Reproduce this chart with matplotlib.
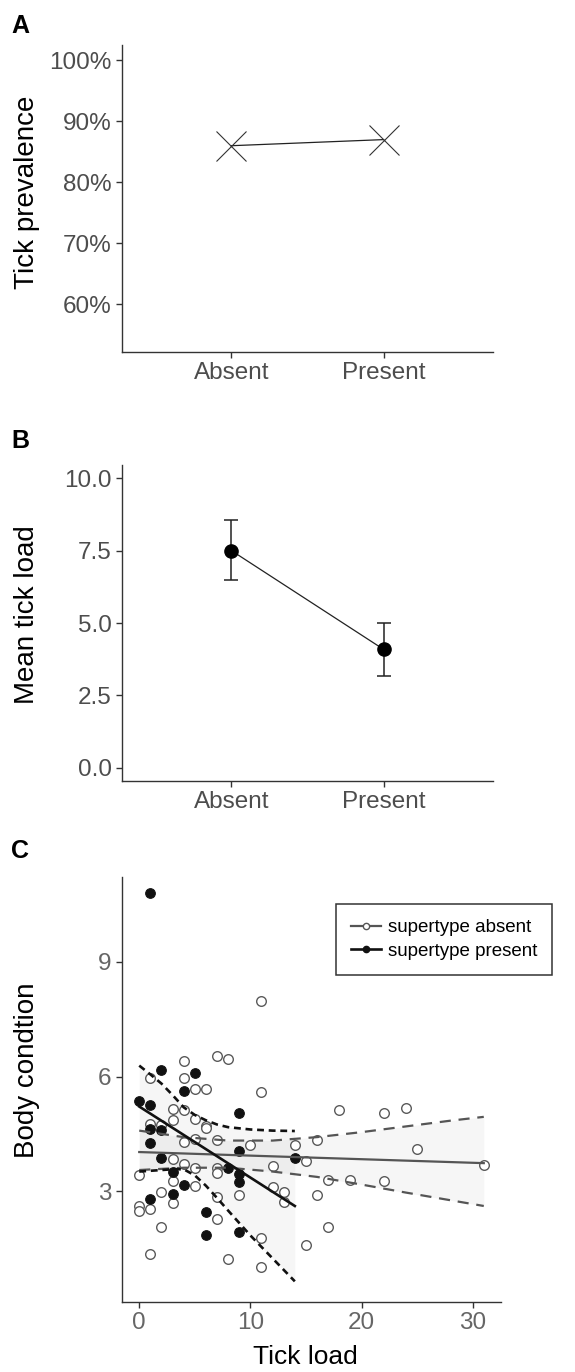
import matplotlib
matplotlib.use("Agg")
import matplotlib.pyplot as plt
from matplotlib.lines import Line2D
from matplotlib.ticker import FuncFormatter

plt.rcParams['font.family'] = ['Liberation Sans', 'DejaVu Sans']

# ---------------- data ----------------
groups = ["Absent", "Present"]
prevalence = [86.0, 87.0]            # %
load_mean = [7.5, 4.09]
load_low = [6.47, 3.18]
load_high = [8.57, 5.0]

absent_x = [11, 4, 7, 8, 1, 4, 5, 6, 11, 3, 4, 3, 5, 6, 1, 2, 4, 5, 7, 10, 14, 16,
            3, 4, 5, 7, 7, 12, 15, 0, 3, 5, 12, 13, 13, 16, 9, 7, 2, 3, 0, 0, 1,
            7, 2, 11, 15, 1, 8, 11, 18, 22, 24, 25, 31, 17, 19, 22, 17, 6]
absent_y = [7.98, 6.42, 6.54, 6.46, 5.97, 5.97, 5.69, 5.67, 5.59, 5.15, 5.13, 4.86, 4.90, 4.70, 4.76, 4.75, 4.28, 4.37, 4.35, 4.22, 4.22, 4.34,
            3.85, 3.72, 3.61, 3.61, 3.47, 3.66, 3.79, 3.43, 3.27, 3.14, 3.11, 2.98, 2.72, 2.91, 2.90, 2.85, 2.98, 2.71, 2.63, 2.49, 2.53,
            2.27, 2.07, 1.78, 1.60, 1.37, 1.24, 1.03, 5.12, 5.04, 5.17, 4.10, 3.70, 3.31, 3.31, 3.27, 2.07, 4.65]

present_x = [1, 2, 5, 4, 0, 1, 9, 1, 2, 1, 9, 2, 14, 3, 8, 9, 9, 4, 3, 1, 6, 6, 9]
present_y = [10.8, 6.17, 6.10, 5.63, 5.37, 5.27, 5.05, 4.62, 4.60, 4.27, 4.05, 3.88, 3.88, 3.52, 3.62, 3.45, 3.25, 3.16, 2.94, 2.80, 2.45, 1.87, 1.95]

absent_fit_x = [0, 31]
absent_fit_y = [4.03, 3.74]
absent_ci_x = [0, 4, 8, 12, 16, 20, 24, 28, 31]
absent_ci_hi = [4.59, 4.42, 4.33, 4.33, 4.42, 4.55, 4.70, 4.85, 4.95]
absent_ci_lo = [3.56, 3.62, 3.62, 3.52, 3.38, 3.18, 2.97, 2.77, 2.62]

present_fit_x = [0, 14]
present_fit_y = [5.22, 2.62]
present_ci_x = [0, 1, 2, 3, 4, 5, 6, 7, 8, 10, 12, 14]
present_ci_hi = [6.29, 6.06, 5.82, 5.52, 5.20, 5.00, 4.86, 4.75, 4.68, 4.62, 4.59, 4.58]
present_ci_lo = [3.52, 3.54, 3.56, 3.58, 3.58, 3.42, 3.15, 2.83, 2.50, 1.85, 1.25, 0.65]

# ---------------- layout ----------------
W, H = 575, 1372
fig = plt.figure(figsize=(W / 100, H / 100), dpi=100)


def rect(l, t, r, b):
    return [l / W, 1 - b / H, (r - l) / W, (b - t) / H]


AX_COL = '#333333'
TICK_COL = '#4d4d4d'


def style(ax, labsize=17.5):
    for s in ('top', 'right'):
        ax.spines[s].set_visible(False)
    for s in ('left', 'bottom'):
        ax.spines[s].set_color(AX_COL)
        ax.spines[s].set_linewidth(1.0)
    ax.tick_params(axis='both', length=4.5, width=1.0, color=AX_COL,
                   labelcolor=TICK_COL, labelsize=labsize, pad=3)


xpos = [1, 2]

# ---- A ----
axA = fig.add_axes(rect(122, 45, 493, 352))
axA.plot(xpos, prevalence, color='#222222', lw=0.9, marker='x', ms=21,
         mew=0.8, mec='#333333')
axA.set_xlim(0.28, 2.72)
axA.set_ylim(52.2, 102.5)
axA.set_yticks([60, 70, 80, 90, 100])
axA.yaxis.set_major_formatter(FuncFormatter(lambda v, p: f"{v:.0f}%"))
axA.set_xticks(xpos)
axA.set_xticklabels(groups)
style(axA)

# ---- B ----
axB = fig.add_axes(rect(122, 465, 493, 781))
yerr = [[m - l for m, l in zip(load_mean, load_low)],
        [h - m for m, h in zip(load_mean, load_high)]]
axB.plot(xpos, load_mean, color='#222222', lw=0.9)
axB.errorbar(xpos, load_mean, yerr=yerr, fmt='o', color='black', ms=9.5,
             ecolor='#222222', elinewidth=1.1, capsize=5.2, capthick=1.1)
axB.set_xlim(0.28, 2.72)
axB.set_ylim(-0.46, 10.46)
axB.set_yticks([0, 2.5, 5, 7.5, 10])
axB.yaxis.set_major_formatter(FuncFormatter(lambda v, p: f"{v:.1f}"))
axB.set_xticks(xpos)
axB.set_xticklabels(groups)
style(axB)

# ---- C ----
axC = fig.add_axes(rect(122, 877, 501, 1302))
axC.fill_between(absent_ci_x, absent_ci_lo, absent_ci_hi, color='#808080',
                 alpha=0.07, lw=0)
axC.fill_between(present_ci_x, present_ci_lo, present_ci_hi, color='#808080',
                 alpha=0.07, lw=0)
axC.scatter(absent_x, absent_y, s=48, facecolors='white', edgecolors='#5a5a5a',
            linewidths=1.0, zorder=3)
axC.scatter(present_x, present_y, s=48, facecolors='#111111', edgecolors='#111111',
            linewidths=0.8, zorder=3)
axC.plot(absent_fit_x, absent_fit_y, color='#555555', lw=1.6, zorder=4)
axC.plot(absent_ci_x, absent_ci_hi, color='#555555', lw=1.6, ls=(0, (5, 3.5)), zorder=4)
axC.plot(absent_ci_x, absent_ci_lo, color='#555555', lw=1.6, ls=(0, (5, 3.5)), zorder=4)
axC.plot(present_fit_x, present_fit_y, color='#111111', lw=1.9, zorder=5)
axC.plot(present_ci_x, present_ci_hi, color='#111111', lw=1.9, ls=(0, (2.6, 1.8)), zorder=5)
axC.plot(present_ci_x, present_ci_lo, color='#111111', lw=1.9, ls=(0, (2.6, 1.8)), zorder=5)
axC.set_xlim(-1.55, 32.55)
axC.set_ylim(0.11, 11.22)
axC.set_xticks([0, 10, 20, 30])
axC.set_yticks([3, 6, 9])
style(axC)
axC.tick_params(labelcolor='#666666')

handles = [
    Line2D([], [], color='#555555', lw=1.6, marker='o', ms=4.5,
           mfc='white', mec='#555555', mew=1.0),
    Line2D([], [], color='#111111', lw=1.9, marker='o', ms=4.5,
           mfc='#111111', mec='#111111'),
]
leg = axC.legend(handles, ['supertype absent', 'supertype present'],
                 loc='upper left', bbox_to_anchor=(0.565, 0.936),
                 fontsize=13.5, frameon=True, fancybox=False, framealpha=1,
                 borderpad=0.8, labelspacing=0.35, handlelength=1.6,
                 handletextpad=0.35, borderaxespad=0)
leg.get_frame().set_edgecolor('#333333')
leg.get_frame().set_linewidth(1.1)

# ---- labels ----
for txt, y in (('A', 33), ('B', 448), ('C', 858)):
    fig.text(11 / W, 1 - y / H, txt, fontsize=18, fontweight='bold',
             ha='left', va='baseline', color='black')

fig.text(27.5 / W, 1 - 192 / H, 'Tick prevalence', rotation=90, ha='center',
         va='center', fontsize=20)
fig.text(27.5 / W, 1 - 615 / H, 'Mean tick load', rotation=90, ha='center',
         va='center', fontsize=20)
fig.text(27.5 / W, 1 - 1070 / H, 'Body condtion', rotation=90, ha='center',
         va='center', fontsize=20)
fig.text(305 / W, 1 - 1357 / H, 'Tick load', ha='center', va='center',
         fontsize=19)

fig.savefig('out.png', dpi=100)
